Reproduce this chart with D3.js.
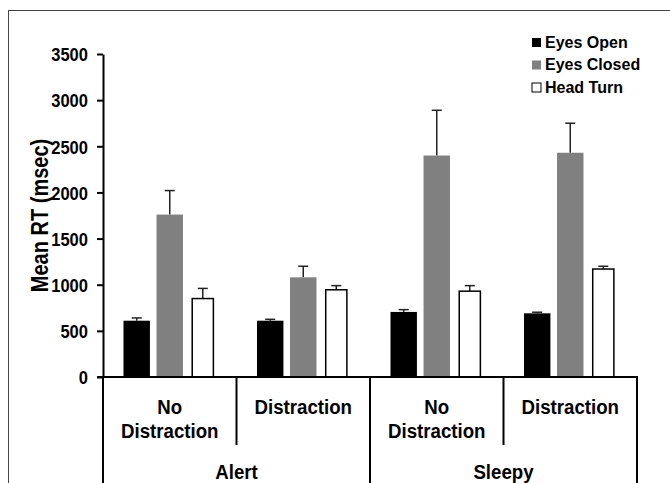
<!DOCTYPE html>
<html>
<head>
<meta charset="utf-8">
<script src="https://cdn.jsdelivr.net/npm/d3@7"></script>
<style>
  body { margin: 0; background: #fff; }
  text { font-family: "Liberation Sans", Arial, sans-serif; font-weight: bold; fill: #000; }
</style>
</head>
<body>
<div id="chart"></div>
<script>
// data
var states = ["Alert", "Sleepy"];
var conditions = ["Alert-No", "Alert-Dist", "Sleepy-No", "Sleepy-Dist"];
var conditionLabels = [["No", "Distraction"], ["Distraction"], ["No", "Distraction"], ["Distraction"]];
var series = ["Eyes Open", "Eyes Closed", "Head Turn"];
var eyesOpen = [610, 610, 705, 690];
var eyesOpenErr = [30, 15, 25, 12];
var eyesClosed = [1760, 1080, 2400, 2430];
var eyesClosedErr = [260, 120, 490, 320];
var headTurn = [850, 945, 930, 1170];
var headTurnErr = [110, 45, 60, 30];
var yTicks = [0, 500, 1000, 1500, 2000, 2500, 3000, 3500];

var width = 670, height = 483;
var margin = {top: 54, right: 33, bottom: 106, left: 103};
var narrow = 0.87; // the figure uses a condensed bold face

var svg = d3.select("#chart")
    .append("svg")
    .attr("width", width)
    .attr("height", height);

// outer frame
svg.append("rect")
    .attr("x", 8.5).attr("y", 10.5)
    .attr("width", width + 10).attr("height", height + 10)
    .attr("fill", "none")
    .attr("stroke", "#444")
    .attr("stroke-width", 1);

var colors = d3.scaleOrdinal().domain(series).range(["#000000", "#808080", "#ffffff"]);

var x0 = d3.scaleBand()
    .domain(conditions)
    .range([margin.left, width - margin.right]);

var x1 = d3.scaleBand()
    .domain(series)
    .range([0, x0.bandwidth()])
    .paddingInner(0.2)
    .paddingOuter(0.62);

var y = d3.scaleLinear()
    .domain([0, 3500])
    .range([height - margin.bottom, margin.top]);

var rows = conditions.map(function(c, i) {
    return {
        cond: c,
        vals: [
            {s: "Eyes Open", v: eyesOpen[i], e: eyesOpenErr[i]},
            {s: "Eyes Closed", v: eyesClosed[i], e: eyesClosedErr[i]},
            {s: "Head Turn", v: headTurn[i], e: headTurnErr[i]}
        ]
    };
});

// bars
var groups = svg.append("g")
    .selectAll("g")
    .data(rows)
    .enter().append("g")
    .attr("transform", function(d) { return "translate(" + x0(d.cond) + ",0)"; });

function barW(d) { return d.s === "Head Turn" ? x1.bandwidth() * 0.8 : x1.bandwidth(); }
function barX(d) { return x1(d.s) + (x1.bandwidth() - barW(d)) / 2; }

// error bars (upper only)
groups.selectAll(".err")
    .data(function(d) { return d.vals; })
    .enter().append("line")
    .attr("x1", function(d) { return x1(d.s) + x1.bandwidth() / 2; })
    .attr("x2", function(d) { return x1(d.s) + x1.bandwidth() / 2; })
    .attr("y1", function(d) { return y(d.v); })
    .attr("y2", function(d) { return y(d.v + d.e); })
    .attr("stroke", "#222")
    .attr("stroke-width", 1.5);

groups.selectAll(".cap")
    .data(function(d) { return d.vals; })
    .enter().append("line")
    .attr("x1", function(d) { return x1(d.s) + x1.bandwidth() / 2 - 5; })
    .attr("x2", function(d) { return x1(d.s) + x1.bandwidth() / 2 + 5; })
    .attr("y1", function(d) { return y(d.v + d.e); })
    .attr("y2", function(d) { return y(d.v + d.e); })
    .attr("stroke", "#222")
    .attr("stroke-width", 1.5);

groups.selectAll("rect")
    .data(function(d) { return d.vals; })
    .enter().append("rect")
    .attr("x", barX)
    .attr("y", function(d) { return y(d.v); })
    .attr("width", barW)
    .attr("height", function(d) { return y(0) - y(d.v); })
    .attr("fill", function(d) { return colors(d.s); })
    .attr("stroke", function(d) { return d.s === "Head Turn" ? "#000" : "none"; })
    .attr("stroke-width", 1.5);

// y axis
var yAxis = svg.append("g")
    .attr("transform", "translate(" + margin.left + ",0)")
    .call(d3.axisLeft(y).tickValues(yTicks).tickFormat(d3.format("d"))
        .tickSize(6).tickSizeOuter(0));
yAxis.select(".domain").attr("stroke", "#000").attr("stroke-width", 2);
yAxis.selectAll(".tick line").attr("stroke", "#000").attr("stroke-width", 2);
yAxis.selectAll(".tick text")
    .attr("x", 0)
    .attr("dy", "0.36em")
    .attr("transform", "translate(-15,0) scale(" + narrow + ",1)")
    .style("font-size", "19px")
    .attr("fill", "#000");

svg.append("text")
    .attr("transform", "translate(48," + (y(1750)) + ") rotate(-90) scale(" + narrow + ",1)")
    .attr("text-anchor", "middle")
    .style("font-size", "23px")
    .text("Mean RT (msec)");

// x axis line and category table
var y0 = y(0);
svg.append("line")
    .attr("x1", margin.left - 6).attr("x2", width - margin.right + 1)
    .attr("y1", y0).attr("y2", y0)
    .attr("stroke", "#000").attr("stroke-width", 2);

// dividers between conditions (short) and states (full)
var bounds = conditions.map(function(c) { return x0(c); }).concat([x0.range()[1]]);
bounds.forEach(function(b, i) {
    var full = (i % 2 === 0);
    svg.append("line")
        .attr("x1", b).attr("x2", b)
        .attr("y1", y0).attr("y2", full ? height : 445)
        .attr("stroke", "#000").attr("stroke-width", 2);
});

svg.append("g").selectAll("text")
    .data(conditions)
    .enter().append("text")
    .attr("transform", function(d) {
        return "translate(" + (x0(d) + x0.bandwidth() / 2) + ",414) scale(0.89,1)";
    })
    .attr("text-anchor", "middle")
    .style("font-size", "21px")
    .each(function(d, i) {
        var t = d3.select(this);
        conditionLabels[i].forEach(function(line, j) {
            t.append("tspan")
                .attr("x", 0)
                .attr("dy", j === 0 ? 0 : 24)
                .text(line);
        });
    });

svg.append("g").selectAll("text")
    .data(states)
    .enter().append("text")
    .attr("transform", function(d, i) {
        return "translate(" + (x0(conditions[i * 2]) + x0.bandwidth()) + ",479) scale(0.89,1)";
    })
    .attr("text-anchor", "middle")
    .style("font-size", "21px")
    .text(function(d) { return d; });

// legend
var legend = svg.append("g")
    .attr("transform", "translate(532,38)")
    .selectAll("g")
    .data(series)
    .enter().append("g")
    .attr("transform", function(d, i) { return "translate(0," + (i * 22.5) + ")"; });

legend.append("rect")
    .attr("width", 9).attr("height", 9)
    .attr("fill", function(d) { return colors(d); })
    .attr("stroke", function(d) { return d === "Head Turn" ? "#000" : "none"; })
    .attr("stroke-width", 1);

legend.append("text")
    .attr("x", 13)
    .attr("y", 9.5)
    .style("font-size", "16px")
    .text(function(d) { return d; });
</script>
</body>
</html>
